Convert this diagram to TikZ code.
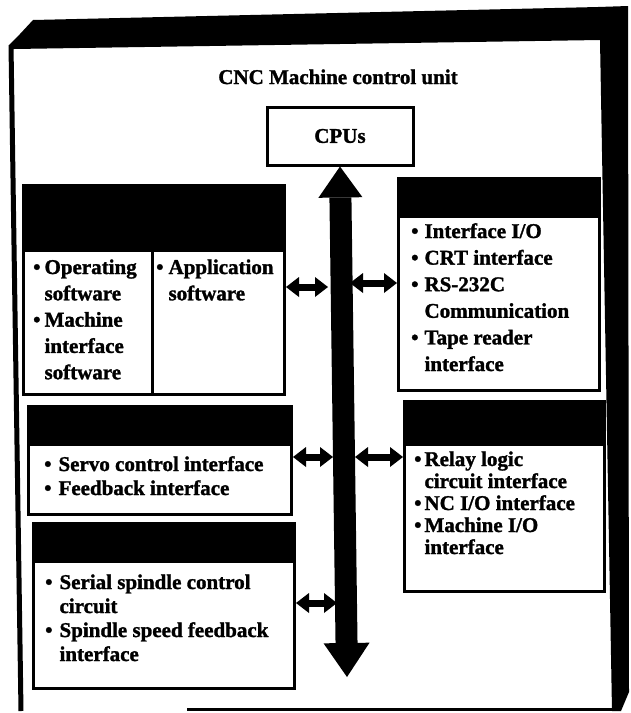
\documentclass[tikz,border=0pt]{standalone}
\usepackage{fontspec}
\setmainfont{Liberation Serif}[BoldFeatures={FakeBold=1.4}]
\usetikzlibrary{arrows.meta}

\tikzset{
  box/.style={draw, line width=3pt, inner sep=0pt, anchor=north west},
  hdr/.style={fill=black},
  lbl/.style={inner sep=0pt, anchor=base west, font=\bfseries\fontsize{21}{#1}\selectfont},
  ttl/.style={inner sep=0pt, font=\bfseries\fontsize{21}{24}\selectfont},
  link/.style={line width=7pt,
    {Triangle[width=20pt,length=13pt,line width=0pt]}-{Triangle[width=20pt,length=13pt,line width=0pt]}},
  bus/.style={line width=22pt,
    {Triangle[width=44pt,length=31pt,line width=0pt]}-{Triangle[width=46pt,length=34pt,line width=0pt]}},
}

\begin{document}
\begin{tikzpicture}[x=1pt,y=-1pt]
  \useasboundingbox (0,0) rectangle (630,713);
  \fill[white] (0,0) rectangle (630,713);

  % cabinet frame: heavy top and right edges, thin left and bottom edges
  \fill (9,45) -- (20,34) -- (33,20) -- (598,7) -- (628,6) -- (629,692)
        -- (621,711) -- (612,711) -- (600,40) -- (14,49) -- (9,49) -- cycle;
  \draw[line width=5pt] (11,45) -- (21,711);
  \draw[line width=3pt] (187,709) -- (615,709);

  % title and processor block
  \node[ttl, anchor=base] (title) at (338,84) {CNC Machine control unit};
  \node[box, anchor=center, minimum width=146pt, minimum height=58pt,
        font=\bfseries\fontsize{21}{24}\selectfont] (cpu) at (340,136) {CPUs};

  % function blocks
  \node[box, minimum width=261pt, minimum height=209pt] (tl)  at (22,184) {};
  \node[box, minimum width=201pt, minimum height=212pt] (tr)  at (397,177) {};
  \node[box, minimum width=263pt, minimum height=108pt] (ml)  at (27,405) {};
  \node[box, minimum width=200pt, minimum height=190pt] (mr)  at (403,400) {};
  \node[box, minimum width=261pt, minimum height=165pt] (bll) at (32,522) {};

  % black title bars of the blocks
  \fill[hdr] (22,184) rectangle (283,252);
  \fill[hdr] (397,177) rectangle (598,218);
  \fill[hdr] (27,405) rectangle (290,446);
  \fill[hdr] (403,400) rectangle (603,446);
  \fill[hdr] (32,522) rectangle (293,563);
  \draw[line width=3pt] (152,252) -- (152,393);

  % block contents
  \node[lbl=26.3] (tla) at (33,274) {\begin{tabular}[t]{@{}l@{\hspace{4pt}}l@{}}
    \textbullet & Operating\\ & software\\ \textbullet & Machine\\ & interface\\ & software\end{tabular}};
  \node[lbl=26.3] (tlb) at (156,274) {\begin{tabular}[t]{@{}l@{\hspace{5pt}}l@{}}
    \textbullet & Application\\ & software\end{tabular}};
  \node[lbl=26.6] (tra) at (411,238) {\begin{tabular}[t]{@{}l@{\hspace{6pt}}l@{}}
    \textbullet & Interface I/O\\ \textbullet & CRT interface\\ \textbullet & RS-232C\\
    & Communication\\ \textbullet & Tape reader\\ & interface\end{tabular}};
  \node[lbl=24] (mla) at (44,471) {\begin{tabular}[t]{@{}l@{\hspace{7pt}}l@{}}
    \textbullet & Servo control interface\\ \textbullet & Feedback interface\end{tabular}};
  \node[lbl=22] (mra) at (414,466) {\begin{tabular}[t]{@{}l@{\hspace{3pt}}l@{}}
    \textbullet & Relay logic\\ & circuit interface\\ \textbullet & NC I/O interface\\
    \textbullet & Machine I/O\\ & interface\end{tabular}};
  \node[lbl=24] (bla) at (45,589) {\begin{tabular}[t]{@{}l@{\hspace{7pt}}l@{}}
    \textbullet & Serial spindle control\\ & circuit\\
    \textbullet & Spindle speed feedback\\ & interface\end{tabular}};

  % system bus
  \coordinate (busend) at (347,677);
  \draw[bus] (cpu.south) -- (busend);

  % links between blocks and bus
  \coordinate (bl1) at (328,287);
  \coordinate (br1) at (350,283);
  \coordinate (bl2) at (333,457);
  \coordinate (br2) at (355,457);
  \coordinate (bl3) at (337,603);
  \draw[link] (tl.east |- bl1) -- (bl1);
  \draw[link] (br1) -- (br1 -| tr.west);
  \draw[link] (ml.east |- bl2) -- (bl2);
  \draw[link] (br2) -- (br2 -| mr.west);
  \draw[link] (bll.east |- bl3) -- (bl3);
\end{tikzpicture}
\end{document}
